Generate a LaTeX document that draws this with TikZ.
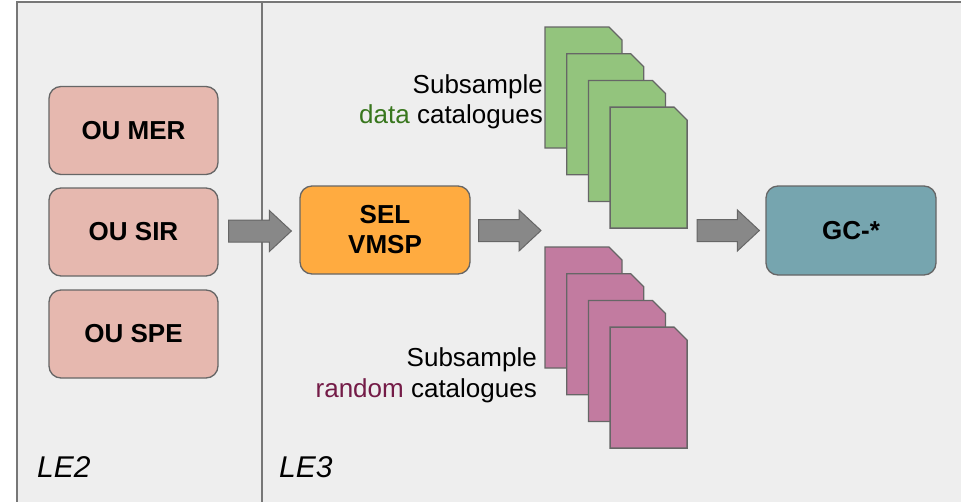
\documentclass[tikz,border=0pt]{standalone}
\usepackage{fontspec}
\setmainfont{Liberation Sans}
\usetikzlibrary{calc}

\definecolor{panelbg}{HTML}{EEEEEE}
\definecolor{edgegray}{HTML}{666666}
\definecolor{framegray}{HTML}{777777}
\definecolor{arrowfill}{HTML}{888888}
\definecolor{ouPink}{HTML}{E6B8AF}
\definecolor{selOrange}{HTML}{FFAB40}
\definecolor{gcTeal}{HTML}{76A5AF}
\definecolor{docGreen}{HTML}{93C47D}
\definecolor{docPink}{HTML}{C27BA0}
\definecolor{dataGreen}{HTML}{38761D}
\definecolor{randomPurple}{HTML}{741B47}

% a dog-eared catalogue sheet, top-left corner at (#1,#2)
\newcommand\docsheet[3]{%
  \draw[sheet, fill=#3] (#1,#2) -- ++(64,0) -- ++(13,13) -- ++(0,108)
    -- ++(-77,0) -- cycle;}

% a wide block arrow from coordinate #1 to the tip at coordinate #2
\newcommand\blockarrow[2]{%
  \draw[fatarrow] let \p1=(#1), \p2=(#2) in
    (\x1,\y1+11pt) -- (\x2-22pt,\y1+11pt) -- (\x2-22pt,\y1+20.5pt)
    -- (\x2,\y1) -- (\x2-22pt,\y1-20.5pt) -- (\x2-22pt,\y1-11pt)
    -- (\x1,\y1-11pt) -- cycle;}

\begin{document}
\begin{tikzpicture}[x=1pt, y=-1pt,
  stagebox/.style={draw=edgegray, line width=1.3pt, rounded corners=12pt,
    minimum width=169pt, minimum height=88pt, inner sep=0pt, align=center,
    font=\fontsize{26}{30}\selectfont\bfseries},
  sheet/.style={draw=edgegray, line width=1.3pt, line join=miter},
  fatarrow/.style={draw=edgegray, line width=1pt, fill=arrowfill},
  caption/.style={inner sep=0pt, align=right, font=\fontsize{26}{30.5}\selectfont},
  levellabel/.style={inner sep=0pt, anchor=base west,
    font=\fontsize{30}{36}\selectfont\itshape}]

\useasboundingbox (0,0) rectangle (961,501);
\fill[white] (0,0) rectangle (961,501);

% panels for the two processing levels
\draw[framegray, line width=1.5pt, fill=panelbg] (17,2) rectangle (966,506);
\draw[framegray, line width=1.5pt] (262,2) -- (262,506);
\node[levellabel] (le2) at (37,477) {LE2};
\node[levellabel] (le3) at (279,477) {LE3};

% LE2 inputs
\node[stagebox, fill=ouPink] (mer) at (133.5,130.5) {OU MER};
\node[stagebox, fill=ouPink] (sir) at (133.5,232) {OU SIR};
\node[stagebox, fill=ouPink] (spe) at (133.5,334) {OU SPE};

% LE3 selection and clustering
\node[stagebox, fill=selOrange, minimum width=170pt] (sel) at (385,230) {SEL\\VMSP};
\node[stagebox, fill=gcTeal, minimum width=170pt, minimum height=89pt] (gc) at (851,230.5) {GC-*};

% subsample catalogue stacks
\foreach \k in {0,1,2,3} {
  \docsheet{545+21.7*\k}{27+26.7*\k}{docGreen}
}
\foreach \k in {0,1,2,3} {
  \docsheet{545+21.7*\k}{247+26.7*\k}{docPink}
}
\node[caption, anchor=east] (datacap) at (543,102)
  {Subsample\\\textcolor{dataGreen}{data} catalogues};
\node[caption, anchor=east] (randcap) at (537,375.5)
  {Subsample\\\textcolor{randomPurple}{random} catalogues};

% flow arrows
\coordinate (a1s) at ($(sir.east)+(10,-1)$);
\coordinate (a1e) at ($(sel.west)+(-8,1)$);
\coordinate (a2s) at ($(sel.east)+(8,0.5)$);
\coordinate (split) at (541,230.5);
\coordinate (a3s) at (697,230.5);
\coordinate (a3e) at ($(gc.west)+(-6,0)$);
\blockarrow{a1s}{a1e}
\blockarrow{a2s}{split}
\blockarrow{a3s}{a3e}

\end{tikzpicture}
\end{document}
